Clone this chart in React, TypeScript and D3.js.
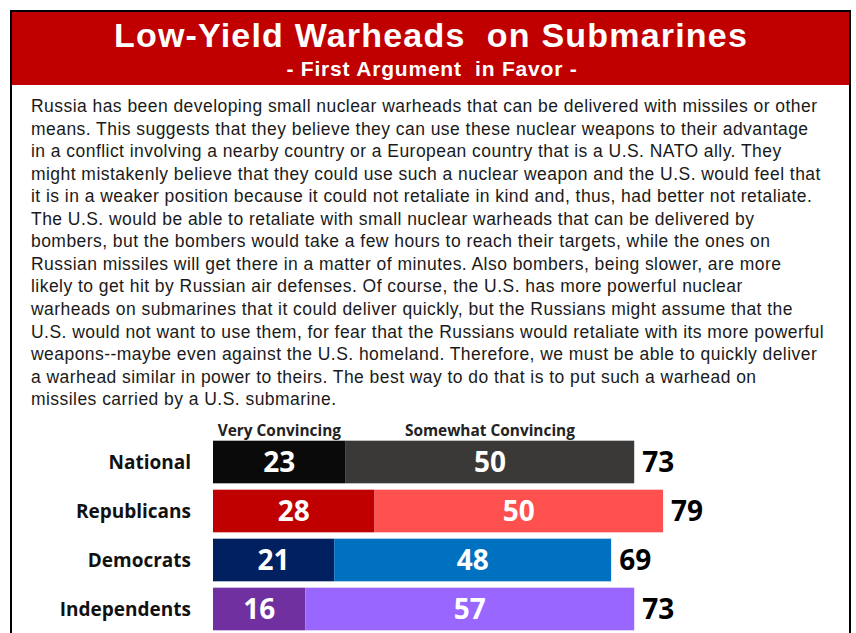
import React from "react";
import * as d3 from "d3";

const categories = ["National", "Republicans", "Democrats", "Independents"];
const veryValues = [23, 28, 21, 16];
const somewhatValues = [50, 50, 48, 57];
const totals = [73, 79, 69, 73];
const seriesNames = ["Very Convincing", "Somewhat Convincing"];
const veryColors = ["#0a0a0a", "#c00000", "#002060", "#7030a0"];
const somewhatColors = ["#3b3838", "#ff5050", "#0070c0", "#9966ff"];

const title = "Low-Yield Warheads  on Submarines";
const subtitle = "- First Argument  in Favor -";
const bodyLines = [
  "Russia has been developing small nuclear warheads that can be delivered with missiles or other",
  "means. This suggests that they believe they can use these nuclear weapons to their advantage",
  "in a conflict involving a nearby country or a European country that is a U.S. NATO ally. They",
  "might mistakenly believe that they could use such a nuclear weapon and the U.S. would feel that",
  "it is in a weaker position because it could not retaliate in kind and, thus, had better not retaliate.",
  "The U.S. would be able to retaliate with small nuclear warheads that can be delivered by",
  "bombers, but the bombers would take a few hours to reach their targets, while the ones on",
  "Russian missiles will get there in a matter of minutes. Also bombers, being slower, are more",
  "likely to get hit by Russian air defenses. Of course, the U.S. has more powerful nuclear",
  "warheads on submarines that it could deliver quickly, but the Russians might assume that the",
  "U.S. would not want to use them, for fear that the Russians would retaliate with its more powerful",
  "weapons--maybe even against the U.S. homeland. Therefore, we must be able to quickly deliver",
  "a warhead similar in power to theirs. The best way to do that is to put such a warhead on",
  "missiles carried by a U.S. submarine.",
];

const W = 856;
const H = 633;

export default function App() {
  const x = d3.scaleLinear().domain([0, 100]).range([213, 213 + 577]);
  const y = d3
    .scaleBand<string>()
    .domain(categories)
    .range([437.5, 633.5])
    .paddingInner(0.13)
    .paddingOuter(0.065);
  const bw = y.bandwidth();
  const sans = "'Liberation Sans', Arial, sans-serif";
  const bold = "'Open Sans', 'Noto Sans', sans-serif";
  const valSize = 28;

  const firstCenter = (x(0) + x(veryValues[0])) / 2;
  const secondCenter = (x(veryValues[0]) + x(veryValues[0] + somewhatValues[0])) / 2;

  return (
    <svg
      width={W}
      height={H}
      style={{ position: "absolute", left: 0, top: 0, background: "#fff" }}
    >
      <rect x={0} y={0} width={W} height={H} fill="#fff" />
      <rect x={11} y={11} width={839} height={700} fill="none" stroke="#000" strokeWidth={2} />
      <rect x={12} y={12} width={837} height={73} fill="#c00000" />
      <text
        x={431}
        y={47}
        textAnchor="middle"
        fill="#fff"
        fontFamily={sans}
        fontWeight="bold"
        fontSize={34}
        letterSpacing={1.2}
        style={{ whiteSpace: "pre" }}
      >
        {title}
      </text>
      <text
        x={432}
        y={76}
        textAnchor="middle"
        fill="#fff"
        fontFamily={sans}
        fontWeight="bold"
        fontSize={21}
        letterSpacing={0.8}
        style={{ whiteSpace: "pre" }}
      >
        {subtitle}
      </text>
      {bodyLines.map((l, i) => (
        <text
          key={i}
          x={31}
          y={112 + i * 22.56}
          fill="#1a1a1a"
          fontFamily={sans}
          fontSize={17.5}
          letterSpacing={0.45}
        >
          {l}
        </text>
      ))}
      <text x={firstCenter} y={436} textAnchor="middle" fontFamily={bold} fontWeight="bold" fontSize={15.4} fill="#222">
        {seriesNames[0]}
      </text>
      <text x={secondCenter} y={436} textAnchor="middle" fontFamily={bold} fontWeight="bold" fontSize={15.4} fill="#222">
        {seriesNames[1]}
      </text>
      {categories.map((c, i) => {
        const y0 = y(c)!;
        const cy = y0 + bw / 2;
        const v = veryValues[i];
        const s = somewhatValues[i];
        const end = x(v + s);
        return (
          <g key={c}>
            <text x={191} y={cy + 7} textAnchor="end" fontFamily={bold} fontWeight="bold" fontSize={19} fill="#111">
              {c}
            </text>
            <rect x={x(0)} y={y0} width={x(v) - x(0)} height={bw} fill={veryColors[i]} />
            <rect x={x(v)} y={y0} width={end - x(v)} height={bw} fill={somewhatColors[i]} />
            <text
              x={(x(0) + x(v)) / 2}
              y={cy + valSize * 0.36}
              textAnchor="middle"
              fill="#fff"
              fontFamily={bold}
              fontWeight="bold"
              fontSize={valSize}
            >
              {v}
            </text>
            <text
              x={(x(v) + end) / 2}
              y={cy + valSize * 0.36}
              textAnchor="middle"
              fill="#fff"
              fontFamily={bold}
              fontWeight="bold"
              fontSize={valSize}
            >
              {s}
            </text>
            <text
              x={end + 8}
              y={cy + valSize * 0.36}
              fill="#000"
              fontFamily={bold}
              fontWeight="bold"
              fontSize={valSize}
            >
              {totals[i]}
            </text>
          </g>
        );
      })}
    </svg>
  );
}
